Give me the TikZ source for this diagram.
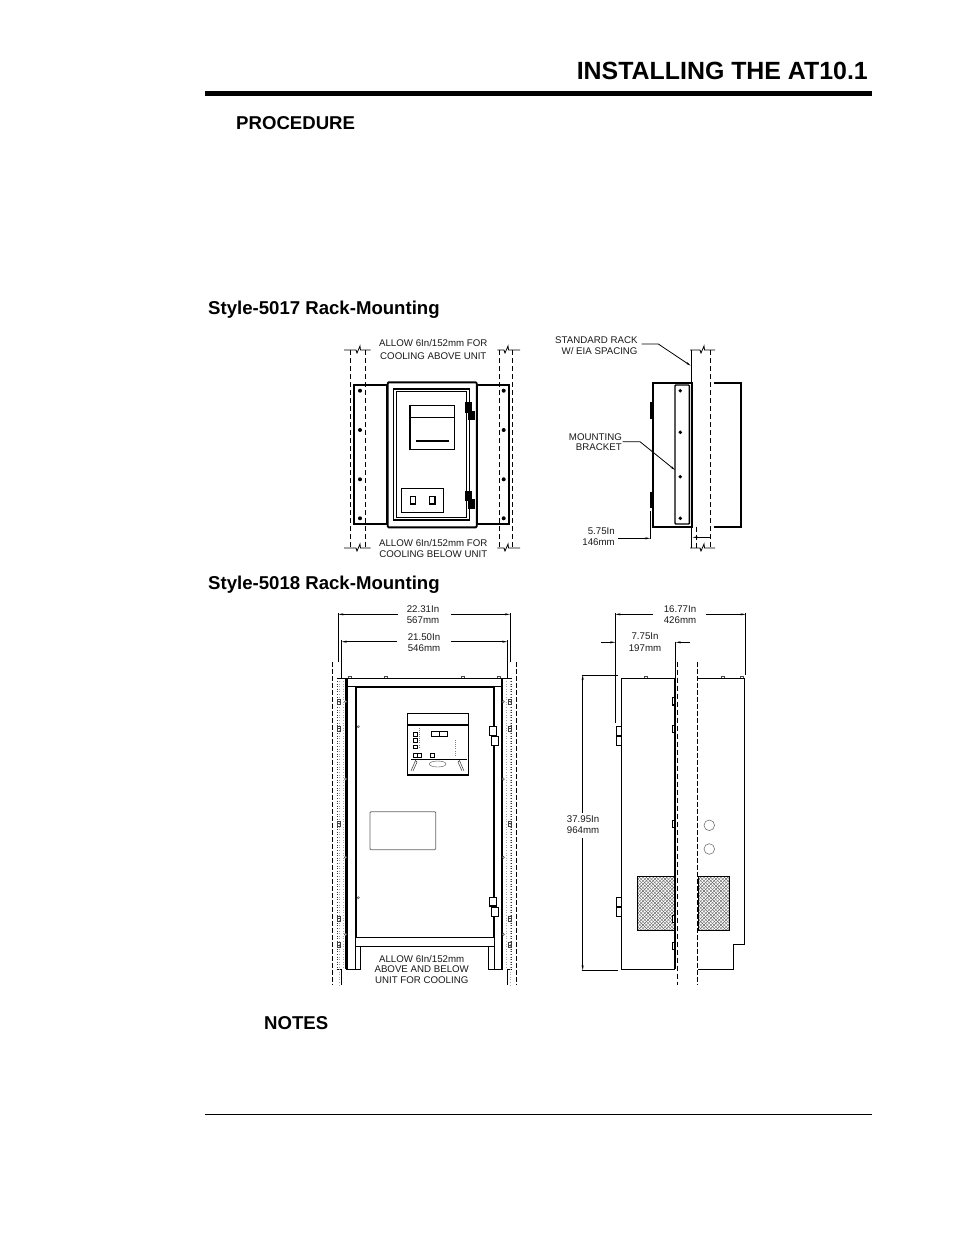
\documentclass[tikz,border=0pt]{standalone}
\usepackage{fontspec}
\setmainfont{Liberation Sans}
\usetikzlibrary{arrows.meta}
\newcommand{\dtext}{\fontsize{9.7}{10.6}\selectfont}
\newcommand{\brk}[4]{\draw[thin1] (#1,#4)--(#3-2,#4)--(#3-1,#4+3)--(#3+2,#4-4)--(#3+2.5,#4)--(#2,#4);}
\tikzset{
 x=1pt,y=-1pt,
 thin1/.style={line width=0.8pt,black},
 med/.style={line width=1.1pt,black},
 heavy/.style={line width=1.9pt,black},
 rackdash/.style={line width=0.9pt,black,dash pattern=on 5pt off 3pt},
 rackbold/.style={line width=1.5pt,black,dash pattern=on 5pt off 2pt},
 dim/.style={line width=0.8pt,black,-{Stealth[length=5pt,width=2pt]}},
 ext/.style={line width=0.8pt,black},
 lbl/.style={font=\dtext,inner sep=0pt,align=center,text=black!90},
 head/.style={font=\bfseries\fontsize{18.6}{22}\selectfont,inner sep=0pt,anchor=west},
 screw/.style={fill=black,draw=none},
 blk/.style={fill=black,draw=black,line width=0.3pt},
 rails/.style={line width=0.8pt,black!35,dash pattern=on 1pt off 1.6pt},
 pip/.style={line width=0.5pt,draw=black!70,fill=white},
}
\begin{document}
\begin{tikzpicture}
\useasboundingbox (0,0) rectangle (954,1235);
% ---------- page furniture
\node[font=\bfseries\fontsize{24.9}{28}\selectfont,inner sep=0pt,anchor=east] (title) at (868,70.5) {INSTALLING THE AT10.1};
\coordinate (ruleA) at (205,93.5); \coordinate (ruleB) at (872,93.5);
\draw[line width=5pt] (ruleA)--(ruleB);
\coordinate (footA) at (205,1114.5); \coordinate (footB) at (872,1114.5);
\draw[line width=0.9pt] (footA)--(footB);
\node[head] (proc) at (236,123.3) {PROCEDURE};
\node[head] (s5017) at (208,309.5) {Style-5017 Rack-Mounting};
\node[head] (s5018) at (208,584.5) {Style-5018 Rack-Mounting};
\node[head] (notes) at (264,1023.5) {NOTES};

% ---------- 5017 front
\foreach \xx in {350,365,499,512}{\draw[rackdash] (\xx,350)--(\xx,548);}
\brk{344}{370.7}{358}{350}
\brk{497.3}{520}{506}{350}
\brk{344}{370.7}{358}{548}
\brk{497.3}{520}{506}{548}
\draw[heavy] (354,385) rectangle (387,524);
\draw[heavy] (477,385) rectangle (509,524);
\draw[heavy,fill=white,rounded corners=1pt] (387.7,382.3) rectangle (476.7,527.3);
\draw[med] (393.3,389) rectangle (469.3,520);
\draw[thin1] (396.7,391.7) rectangle (466.7,517.3);
\draw[med] (410,405.3) rectangle (454.7,449.3);
\draw[thin1] (410,417.3)--(454.7,417.3);
\draw[med] (416,441)--(448.7,441);
\draw[med] (401.3,488.3) rectangle (443.7,512.3);
\draw[med] (410.3,496.7) rectangle (415.3,504);
\draw[med] (429.7,496.7) rectangle (435,504);
\draw[blk] (465,402.3) rectangle (470.7,411.7);
\draw[blk] (467.7,411) rectangle (473.7,418.7);
\draw[blk] (465,491) rectangle (470.7,500);
\draw[blk] (467.7,499.3) rectangle (473.7,508);
\foreach \yy in {390.7,430,479.3,518.3}{
  \fill[screw] (360,\yy) circle (2);
  \fill[screw] (503.7,\yy) circle (2);}
\node[lbl] (up1) at (433.3,343.5) {ALLOW 6In/152mm FOR};
\node[lbl] (up2) at (433.3,355.7) {COOLING ABOVE UNIT};
\node[lbl] (dn1) at (433.3,542.7) {ALLOW 6In/152mm FOR};
\node[lbl] (dn2) at (433.3,554) {COOLING BELOW UNIT};

% ---------- 5017 side
\draw[thin1] (691.7,350)--(691.7,548);
\draw[rackdash] (710.7,350)--(710.7,548);
\draw[rackdash,line width=0.7pt] (696,526.7)--(696,548);
\brk{690}{715}{702}{350}
\brk{690}{715}{702}{548}
\draw[heavy] (692.7,382.7)--(652.7,382.7)--(652.7,526.7)--(692.7,526.7);
\draw[heavy] (714,382.7)--(741,382.7)--(741,526.7)--(714,526.7);
\draw[line width=2pt] (692,382.7)--(692,526.7);
\draw[line width=1.4pt,rounded corners=0.8pt] (675,385) rectangle (689.3,524);
\fill (650,402.3) rectangle (652.7,419);
\fill (650,492.3) rectangle (652.7,508.3);
\foreach \yy in {390.7,432.3,476.7,518.3}{\fill[screw] (680.3,\yy) circle (1.9);}
\node[lbl,anchor=east] (rackA) at (637.7,340) {STANDARD RACK};
\node[lbl,anchor=east] (rackB) at (637.7,351.3) {W/ EIA SPACING};
\node[lbl,anchor=east] (mntA) at (622,436.7) {MOUNTING};
\node[lbl,anchor=east] (mntB) at (622,447.3) {BRACKET};
\node[lbl,anchor=east] (dimA) at (615,531.7) {5.75In};
\node[lbl,anchor=east] (dimB) at (615,542.5) {146mm};
\coordinate (rackL) at (641.7,344); \coordinate (rackK) at (658.3,344); \coordinate (rackT) at (690.7,365.7);
\draw[dim] (rackL)--(rackK)--(rackT);
\coordinate (mntL) at (622.7,441.7); \coordinate (mntK) at (640,441.7); \coordinate (mntT) at (675,470);
\draw[dim] (mntL)--(mntK)--(mntT);
\coordinate (d1a) at (618.3,538.3); \coordinate (d1b) at (650.3,538.3);
\draw[dim] (d1a)--(d1b);
\draw[ext] (650.7,511)--(650.7,539);
\coordinate (d1c) at (710.5,537.3); \coordinate (d1d) at (692.5,537.3);
\draw[dim] (d1c)--(d1d);

% ---------- 5018 front
\foreach \xx in {332.3,516.7}{\draw[rackbold] (\xx,661.7)--(\xx,985);}
\foreach \xx in {339,343,506,510}{\draw[rails] (\xx,678.3)--(\xx,969);}
\draw[rails,black!80] (337,678.3)--(337,969);
\draw[rails,black!80] (511.7,678.3)--(511.7,969);
\draw[thin1] (336.7,678.3)--(346,678.3);
\draw[thin1] (502.7,678.3)--(511.7,678.3);
\draw[med] (346,678.3)--(346,969);
\draw[med] (502.7,678.3)--(502.7,969);
\draw[thin1] (347.5,678.3)--(347.5,969);
\draw[thin1] (501.3,678.3)--(501.3,969);
\draw[thin1] (336.7,969)--(341.7,969)--(341.7,985);
\draw[thin1] (511.7,969)--(507.3,969)--(507.3,985);
\draw[rails] (339,969)--(339,985);
\draw[rails] (510,969)--(510,985);
\draw[med] (346,678.3)--(502.7,678.3);
\draw[thin1] (347.5,686.7)--(501.3,686.7);
\draw[thin1] (355,686.7)--(355,969)--(346,969);
\draw[thin1] (360.7,946)--(360.7,969)--(355,969);
\draw[thin1] (494,686.7)--(494,969)--(502.7,969);
\draw[thin1] (488.3,946)--(488.3,969)--(494,969);
\draw[thin1] (355,946)--(494,946);
\draw[thin1] (356.2,687.7)--(356.2,936.8);
\draw[med] (356,687.9)--(494,687.9);
\draw[line width=1.7pt] (493.8,687)--(493.8,937);
\draw[line width=1.5pt] (355,937.3)--(494,937.3);
% bumps on the top edge
\foreach \xx in {350,386,462.7,499}{\draw[pip] (\xx-1.5,678.2)--(\xx-1.5,676.2)--(\xx+1.5,676.2)--(\xx+1.5,678.2);}
% rail pips
\foreach \yy in {701.7,779,857.3,934.3}{
  \draw[pip] (345.5,\yy) circle (1.1);
  \draw[pip] (503.3,\yy) circle (1.1);}
\foreach \yy in {726.7,897.7}{\draw[pip] (358.3,\yy) circle (1.1);}
\foreach \yy in {701.7,728.3,823.3,918.3,945}{
  \foreach \xx in {339,510}{
   \draw[line width=0.5pt,black!75] (\xx-1.3,\yy-2.5) rectangle (\xx+1.3,\yy+2.5);
   \draw[line width=0.5pt,black!75] (\xx-1.3,\yy)--(\xx+1.3,\yy);}}
% door hinges
\foreach \ya/\yb in {726.7/735.7,897.3/906}{\draw[med,fill=white] (489.3,\ya) rectangle (496.7,\yb);}
\foreach \ya/\yb in {736.3/745.7,907.3/916.7}{\draw[med,fill=white] (491.3,\ya) rectangle (498.7,\yb);}
% control panel
\draw[med] (407.3,713.3) rectangle (468.3,775);
\draw[line width=1.8pt] (407.3,725)--(468.3,725);
\draw[thin1] (413.3,732.3) rectangle (417,736);
\draw[thin1] (413.3,738.3) rectangle (417,742);
\draw[thin1] (413.3,745) rectangle (417,748.7);
\draw[thin1] (413.3,753.3) rectangle (421.7,757.3);
\draw[thin1] (417.5,753.3)--(417.5,757.3);
\draw[thin1] (430.7,753.3) rectangle (434.3,757.3);
\draw[thin1] (431,731.7) rectangle (447.3,736.7);
\draw[thin1] (439,731.7)--(439,736.7);
\draw[line width=0.8pt,black!50,dash pattern=on 0.8pt off 1.3pt] (455,740)--(455,755);
\draw[line width=0.8pt,black!50,dash pattern=on 0.8pt off 1.3pt] (419,727.7)--(419,748);
\draw[thin1] (411,759)--(466.7,759);
\draw[line width=0.4pt,black!70] (437.7,764) ellipse (8.3 and 3);
\draw[line width=0.5pt,black!80] (411,771)--(415.5,760.5)--(417,762)--(413,771);
\draw[line width=0.5pt,black!80] (464,771)--(459.5,760.5)--(458,762)--(462,771);
% window
\draw[line width=0.8pt,black!60,rounded corners=1pt] (370,811.7) rectangle (435.7,849.7);
% dimensions
\node[lbl] (w1a) at (423,609) {22.31In};
\node[lbl] (w1b) at (423,620) {567mm};
\node[lbl] (w2a) at (424,636.7) {21.50In};
\node[lbl] (w2b) at (424,647.7) {546mm};
\coordinate (e1) at (338.3,614.3); \coordinate (e1t) at (398,614.3);
\coordinate (e2) at (510,614.3); \coordinate (e2t) at (450.7,614.3);
\draw[dim] (e1t)--(e1); \draw[dim] (e2t)--(e2);
\draw[ext] (338.3,613)--(338.3,661.7); \draw[ext] (510,613)--(510,661.7);
\coordinate (f1) at (341.7,641.7); \coordinate (f1t) at (397.3,641.7);
\coordinate (f2) at (507.3,641.7); \coordinate (f2t) at (450.7,641.7);
\draw[dim] (f1t)--(f1); \draw[dim] (f2t)--(f2);
\draw[ext] (341.7,640)--(341.7,678); \draw[ext] (507.3,640)--(507.3,678);
\node[lbl] (al1) at (421.7,959) {ALLOW 6In/152mm};
\node[lbl] (al2) at (421.7,969.5) {ABOVE AND BELOW};
\node[lbl] (al3) at (421.7,980.5) {UNIT FOR COOLING};

% ---------- 5018 side
\begin{scope}
\clip (637.3,876.3) rectangle (675,930.3);
\foreach \i in {0,3.4,...,120}{
  \draw[line width=0.4pt,black!60] (637.3+\i-60,876.3)--(637.3+\i,930.3+6);
  \draw[line width=0.4pt,black!60] (637.3+\i,876.3)--(637.3+\i-60,930.3+6);}
\end{scope}
\begin{scope}
\clip (698.3,876.3) rectangle (729.3,930.3);
\foreach \i in {0,3.4,...,120}{
  \draw[line width=0.4pt,black!60] (698.3+\i-60,876.3)--(698.3+\i,930.3+6);
  \draw[line width=0.4pt,black!60] (698.3+\i,876.3)--(698.3+\i-60,930.3+6);}
\end{scope}
\draw[med] (637.3,876.3) rectangle (675,930.3);
\draw[med] (698.3,876.3) rectangle (729.3,930.3);
\draw[med] (675,678.3)--(621.7,678.3)--(621.7,969.3)--(675,969.3);
\draw[line width=1.8pt] (675,678.3)--(675,969.3);
\draw[med] (698.3,678.3)--(744.3,678.3)--(744.3,944.3)--(733.3,944.3)--(733.3,969.3)--(698.3,969.3);
\draw[rackdash] (677.3,661.7)--(677.3,985);
\draw[rackbold] (697.7,661.7)--(697.7,985);
\foreach \ya/\yb in {726.7/736,736/745.7,897.3/907,907/916.7}{\draw[med,fill=white] (616.3,\ya) rectangle (621.7,\yb);}
\foreach \ya/\yb in {697.7/705,725.7/732.7,820.7/827.3,915.7/922.7,942.3/949.3}{\draw[med,fill=white] (672.5,\ya) rectangle (675,\yb);}
\foreach \yy in {825.3,849}{\draw[line width=0.6pt,black!55] (709.3,\yy) circle (5.3);}
\foreach \xx in {646,722.7,741.7}{\draw[pip] (\xx-1.5,678.2)--(\xx-1.5,676.2)--(\xx+1.5,676.2)--(\xx+1.5,678.2);}
\node[lbl] (s1a) at (680,609) {16.77In};
\node[lbl] (s1b) at (680,620) {426mm};
\node[lbl] (s2a) at (645,636.7) {7.75In};
\node[lbl] (s2b) at (645,648) {197mm};
\node[lbl,anchor=west] (h1) at (566.7,819.3) {37.95In};
\node[lbl,anchor=west] (h2) at (566.7,830.3) {964mm};
\coordinate (g1) at (615.3,614.3); \coordinate (g1t) at (653.3,614.3);
\coordinate (g2) at (745.7,614.3); \coordinate (g2t) at (705.7,614.3);
\draw[dim] (g1t)--(g1); \draw[dim] (g2t)--(g2);
\draw[ext] (615.3,613)--(615.3,723.3); \draw[ext] (745.7,613)--(745.7,675);
\coordinate (k1) at (601,642.3); \coordinate (k1t) at (615.3,642.3);
\coordinate (k2) at (690,642.3); \coordinate (k2t) at (675.7,642.3);
\draw[dim] (k1)--(k1t); \draw[dim] (k2)--(k2t);
\draw[ext] (675.7,641.7)--(675.7,678);
\coordinate (v1) at (582.7,813); \coordinate (v1t) at (582.7,675);
\coordinate (v2) at (582.7,838.3); \coordinate (v2t) at (582.7,970.3);
\draw[dim] (v1)--(v1t); \draw[dim] (v2)--(v2t);
\draw[ext] (581.7,675)--(618.3,675);
\draw[ext] (581.7,970.3)--(618.3,970.3);
\end{tikzpicture}
\end{document}
